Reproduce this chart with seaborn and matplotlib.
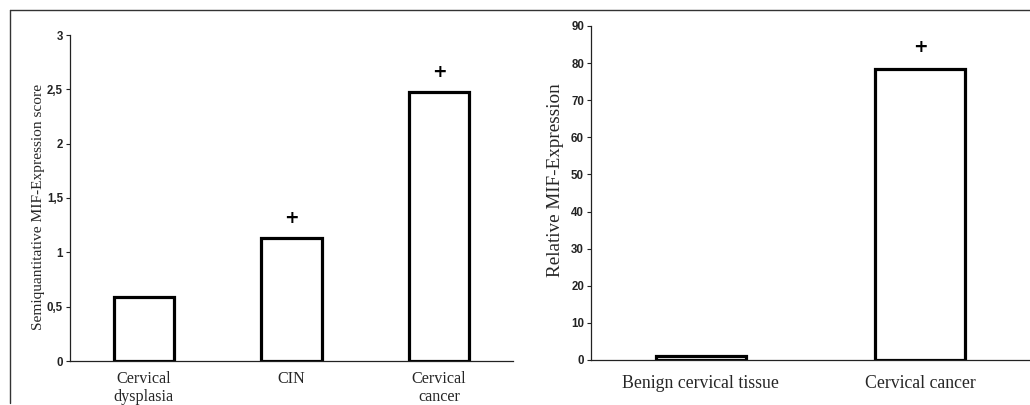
import matplotlib
matplotlib.use("Agg")
import matplotlib.pyplot as plt
import seaborn as sns
import pandas as pd
from matplotlib.lines import Line2D
from matplotlib.font_manager import FontProperties

# Data
left_categories = ["Cervical\ndysplasia", "CIN", "Cervical\ncancer"]
left_values = [0.59, 1.13, 2.48]
left_sig = [False, True, True]
left_sig_y = [None, 1.32, 2.66]
left_yticks = [0, 0.5, 1, 1.5, 2, 2.5, 3]
left_yticklabels = ["0", "0,5", "1", "1,5", "2", "2,5", "3"]

right_categories = ["Benign cervical tissue", "Cervical cancer"]
right_values = [1.2, 78.3]
right_sig = [False, True]
right_sig_y = [None, 84.3]
right_yticks = [0, 10, 20, 30, 40, 50, 60, 70, 80, 90]

sns.set_style("white")
plt.rcParams['font.family'] = ['Liberation Serif', 'DejaVu Serif']

fig = plt.figure(figsize=(10.3, 4.05), dpi=100)
fig.patch.set_facecolor("white")

axL = fig.add_axes([70/1030, (405-361)/405, (513-70)/1030, (361-35)/405])
axR = fig.add_axes([591/1030, (405-360)/405, (1030-591)/1030, (360-26)/405])


def draw(ax, cats, vals, sig, sig_y, ylim, yticks, yticklabels, ylabel, width,
         ylab_size, ylab_xy, xlab_size, xpad):
    df = pd.DataFrame({"cat": cats, "val": vals})
    sns.barplot(data=df, x="cat", y="val", ax=ax, color="white", edgecolor="black",
                linewidth=2.3, width=width, saturation=1)
    for i, (s, y) in enumerate(zip(sig, sig_y)):
        if s:
            ax.text(i, y, "+", ha="center", va="center", fontsize=12.5, fontweight="bold",
                    family=['DejaVu Sans'], color="black")
    ax.set_ylim(*ylim)
    ax.set_xlim(-0.5, len(cats) - 0.5)
    ax.set_yticks(yticks)
    ax.set_yticklabels(yticklabels)
    for lab in ax.get_yticklabels():
        lab.set_fontproperties(FontProperties(family='Liberation Sans', size=8.3, weight='bold'))
        lab.set_color('#222222')
    ax.tick_params(axis='y', direction='out', length=3, width=0.8, pad=2, left=True, colors='#222222')
    ax.tick_params(axis='x', length=0, pad=xpad)
    ax.set_xticks(range(len(cats)))
    ax.set_xticklabels(cats, fontsize=xlab_size, linespacing=1.2)
    ax.set_xlabel("")
    ax.set_ylabel(ylabel, fontsize=ylab_size)
    ax.yaxis.set_label_coords(*ylab_xy)
    for sp in ["top", "right"]:
        ax.spines[sp].set_visible(False)
    for sp in ["left", "bottom"]:
        ax.spines[sp].set_color("#222222")
        ax.spines[sp].set_linewidth(0.9)
    ax.set_facecolor("white")

draw(axL, left_categories, left_values, left_sig, left_sig_y, (0, 3), left_yticks,
     left_yticklabels, "Semiquantitative MIF-Expression score", 0.41, 11.1,
     (-0.057, 0.474), 11.6, 7)
draw(axR, right_categories, right_values, right_sig, right_sig_y, (0, 90), right_yticks,
     [str(t) for t in right_yticks], "Relative MIF-Expression", 0.41, 13.8,
     (-0.062, 0.539), 12.8, 11)

# outer frame lines
fig.add_artist(Line2D([10/1030, 10/1030], [(405-403)/405, (405-10)/405],
                      transform=fig.transFigure, color="#333333", linewidth=1))
fig.add_artist(Line2D([10/1030, 1.0], [(405-10)/405, (405-10)/405],
                      transform=fig.transFigure, color="#333333", linewidth=1))

fig.savefig("out.png", dpi=100, facecolor="white")
